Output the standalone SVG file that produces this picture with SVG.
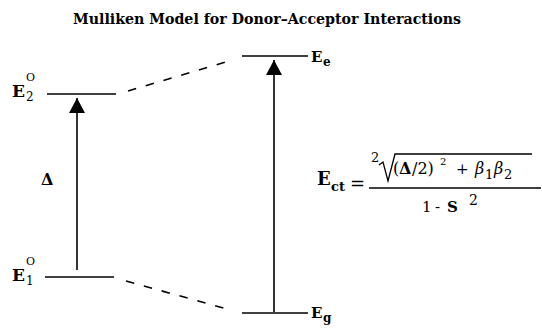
<svg xmlns="http://www.w3.org/2000/svg" width="542" height="328" viewBox="0 0 542 328">
<style>
.t{font-weight:bold}
.lvl{stroke:#000;stroke-width:1.6;fill:none}
.dash{stroke:#000;stroke-width:1.6;fill:none;stroke-dasharray:8.5 10}
.shaft{stroke:#000;stroke-width:1.6;fill:none}
</style>
<defs>
<marker id="ah" viewBox="0 0 15 16" refX="15" refY="8" markerWidth="15" markerHeight="16" markerUnits="userSpaceOnUse" orient="auto">
<path d="M0,0 L15,8 L0,16 Z" fill="#000"/>
</marker>
</defs>
<rect width="542" height="328" fill="#fff"/>
<g font-family="DejaVu Serif, serif" fill="#000">
<text class="t" x="267" y="24" font-size="15" text-anchor="middle" textLength="388" lengthAdjust="spacingAndGlyphs">Mulliken Model for Donor–Acceptor Interactions</text>

<g id="E2">
<line class="lvl" x1="47" y1="94" x2="116" y2="94"/>
<text class="t" x="12" y="97" font-size="17">E</text>
<text x="26" y="81" font-size="11">O</text>
<text x="26" y="101" font-size="12">2</text>
</g>
<g id="E1">
<line class="lvl" x1="45" y1="277" x2="114" y2="277"/>
<text class="t" x="12" y="281" font-size="17">E</text>
<text x="26" y="265" font-size="11">O</text>
<text x="26" y="285" font-size="12">1</text>
</g>
<g id="delta">
<text class="t" x="41" y="185" font-size="16">Δ</text>
</g>
<g id="Ee">
<line class="lvl" x1="242" y1="56" x2="308" y2="56"/>
<text class="t" x="311" y="62" font-size="15">E</text>
<text class="t" x="323" y="66" font-size="12">e</text>
</g>
<g id="Eg">
<line class="lvl" x1="242" y1="313" x2="308" y2="313"/>
<text class="t" x="311" y="318" font-size="15">E</text>
<text class="t" x="323" y="322" font-size="12">g</text>
</g>
<g id="formula">
<text class="t" x="317" y="185" font-size="18">E</text>
<text class="t" x="331" y="191" font-size="13">ct</text>
<text x="350" y="190" font-size="18">=</text>
<line class="lvl" x1="369" y1="188" x2="541" y2="188" stroke-width="1.4"/>
<text x="371" y="162" font-size="13">2</text>
<path d="M379,165 L383,162 L388,181 L395,154 L532,154" fill="none" stroke="#000" stroke-width="1.3"/>
<text x="393" y="174" font-size="16">(</text>
<text class="t" x="399" y="174" font-size="16">Δ</text>
<text x="412" y="174" font-size="16">/2)</text>
<text x="440" y="165" font-size="10">2</text>
<text x="456" y="174" font-size="15">+</text>
<text x="475" y="174" font-size="16" font-style="italic">β</text>
<text x="485" y="179" font-size="13">1</text>
<text x="494" y="174" font-size="16" font-style="italic">β</text>
<text x="504" y="179" font-size="13">2</text>
<text x="422" y="212" font-size="15">1</text>
<text x="435" y="212" font-size="15">-</text>
<text class="t" x="447" y="212" font-size="15">S</text>
<text x="469" y="205" font-size="14">2</text>
</g>
</g>
<g id="connectors">
<line class="dash" x1="128" y1="91" x2="229" y2="61"/>
<line class="dash" x1="126" y1="281" x2="227" y2="309"/>
<line class="shaft" x1="77" y1="270" x2="77" y2="98" marker-end="url(#ah)"/>
<line class="shaft" x1="274" y1="312" x2="274" y2="60" marker-end="url(#ah)"/>
</g>
</svg>
